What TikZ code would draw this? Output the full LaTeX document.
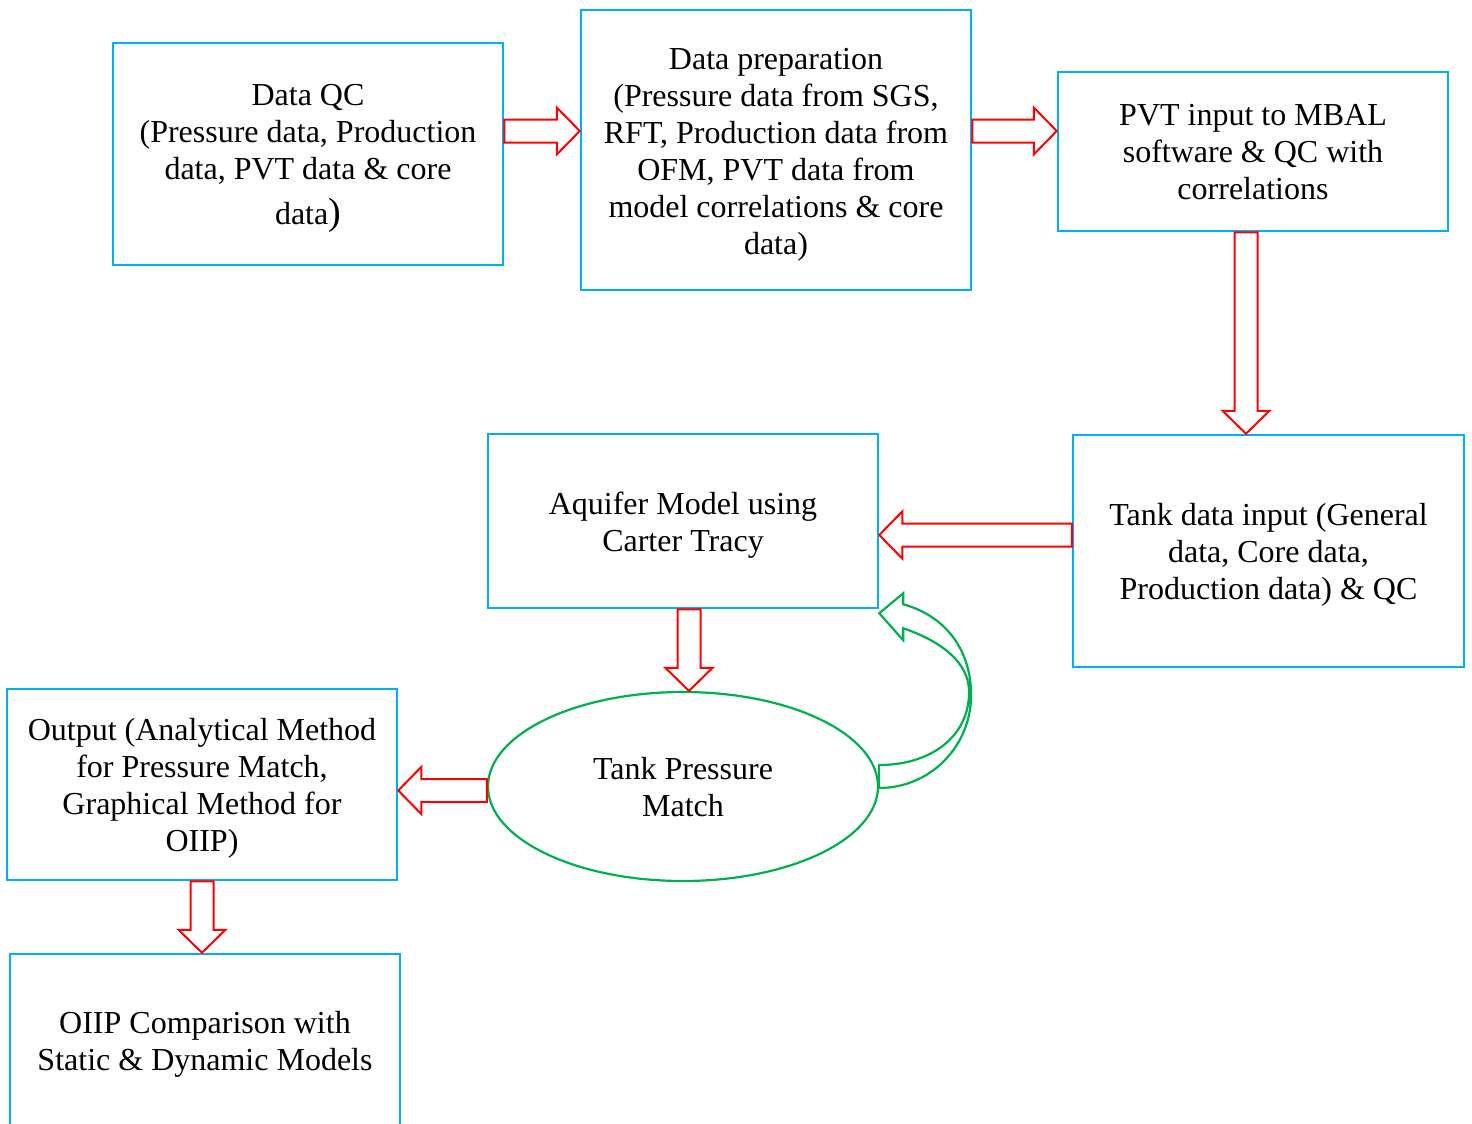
\documentclass[tikz,border=0pt]{standalone}
\usepackage{fontspec}
\setmainfont{Liberation Serif}
\usetikzlibrary{shapes.geometric,calc}
\definecolor{boxblue}{RGB}{0,176,240}
\definecolor{flowred}{RGB}{255,0,0}
\definecolor{loopgreen}{RGB}{0,176,80}
\newcommand\firstlift[1]{\rule{0pt}{#1}}
\newcommand\arrRight[2]{\draw[barrow] let \p1=#1,\p2=#2 in
 (\x1,{\y1+5.75pt}) -- ({\x2-11.5pt},{\y1+5.75pt}) -- ({\x2-11.5pt},{\y1+11.75pt}) -- (\x2,\y1)
 -- ({\x2-11.5pt},{\y1-11.75pt}) -- ({\x2-11.5pt},{\y1-5.75pt}) -- (\x1,{\y1-5.75pt}) -- cycle;}
\newcommand\arrLeft[2]{\draw[barrow] let \p1=#1,\p2=#2 in
 (\x1,{\y1+5.75pt}) -- ({\x2+11.5pt},{\y1+5.75pt}) -- ({\x2+11.5pt},{\y1+11.75pt}) -- (\x2,\y1)
 -- ({\x2+11.5pt},{\y1-11.75pt}) -- ({\x2+11.5pt},{\y1-5.75pt}) -- (\x1,{\y1-5.75pt}) -- cycle;}
\newcommand\arrDown[2]{\draw[barrow] let \p1=#1,\p2=#2 in
 ({\x1-5.75pt},\y1) -- ({\x1-5.75pt},{\y2+11.5pt}) -- ({\x1-11.75pt},{\y2+11.5pt}) -- (\x1,\y2)
 -- ({\x1+11.75pt},{\y2+11.5pt}) -- ({\x1+5.75pt},{\y2+11.5pt}) -- ({\x1+5.75pt},\y1) -- cycle;}
\begin{document}
\begin{tikzpicture}[x=0.5pt,y=-0.5pt,
  boxnode/.style={draw=boxblue,line width=1.25pt,rectangle,align=center,inner sep=0pt,
    font=\fontsize{16}{18.5}\selectfont},
  ellnode/.style={draw=loopgreen,line width=1.1pt,ellipse,align=center,inner sep=0pt,
    font=\fontsize{16}{18.5}\selectfont},
  barrow/.style={draw=flowred,fill=white,line width=1pt,line join=miter},
  loopar/.style={draw=loopgreen,fill=white,line width=1.1pt,line join=miter}]
\useasboundingbox (0,0) rectangle (1472,1124);
\clip (0,0) rectangle (1472,1124);

\node[boxnode,minimum width=195pt,minimum height=111pt] (b1) at (308,154)
  {\firstlift{15pt}Data QC\\(Pressure data, Production\\data, PVT data \& core\\[4pt]data{\fontsize{19}{19}\selectfont)}};
\node[boxnode,minimum width=195pt,minimum height=140pt] (b2) at (776,150)
  {\firstlift{15pt}Data preparation\\(Pressure data from SGS,\\RFT, Production data from\\OFM, PVT data from\\model correlations \& core\\data)};
\node[boxnode,minimum width=195pt,minimum height=79.5pt] (b3) at (1253,151.5)
  {\firstlift{11pt}PVT input to MBAL\\software \& QC with\\correlations};
\node[boxnode,minimum width=195.5pt,minimum height=116pt] (b4) at (1268.5,551)
  {\firstlift{15pt}Tank data input (General\\data, Core data,\\Production data) \& QC};
\node[boxnode,minimum width=195pt,minimum height=87pt] (b5) at (683,521)
  {\firstlift{15pt}Aquifer Model using\\Carter Tracy};
\node[ellnode,minimum width=195pt,minimum height=94.5pt] (el) at (683,786.5)
  {\firstlift{12pt}Tank Pressure\\Match};
\node[boxnode,minimum width=195pt,minimum height=95.5pt] (b6) at (202,784.5)
  {\firstlift{15pt}Output (Analytical Method\\for Pressure Match,\\Graphical Method for\\OIIP)};
\node[boxnode,minimum width=195pt,minimum height=87pt] (b7) at (205,1041)
  {\firstlift{14pt}OIIP Comparison with\\Static \& Dynamic Models};

\arrRight{($(b1.east)+(0,-23)$)}{(b2.west)}
\arrRight{($(b2.east)+(0,-19)$)}{(b3.west)}
\arrDown{($(b3.south)+(-7,0)$)}{(b4.north)}
\arrLeft{($(b4.west)+(0,-16)$)}{(b5.east)}
\arrDown{($(b5.south)+(6,0)$)}{(el.north)}
\arrLeft{($(el.west)+(0,4)$)}{(b6.east)}
\arrDown{(b6.south)}{(b7.north)}

\draw[loopar] ($(el.east)+(0,1.5)$)
  .. controls ($(el.east)+(51,1.5)$) and ($(el.east)+(92,-40)$) .. ($(el.east)+(92,-91.5)$)
  .. controls ($(el.east)+(92,-136)$) and ($(b5.south east)+(67,7)$) .. ($(b5.south east)+(24,-5)$)
  -- ($(b5.south east)+(24,-16)$) -- ($(b5.south east)+(0,4)$) -- ($(b5.south east)+(24,31)$)
  -- ($(b5.south east)+(24,19)$)
  .. controls ($(b5.south east)+(62,32)$) and ($(el.east)+(90,-124)$) .. ($(el.east)+(90,-94.5)$)
  .. controls ($(el.east)+(90,-50)$) and ($(el.east)+(52,-21.5)$) .. ($(el.east)+(0,-21.5)$)
  -- cycle;
\end{tikzpicture}
\end{document}
